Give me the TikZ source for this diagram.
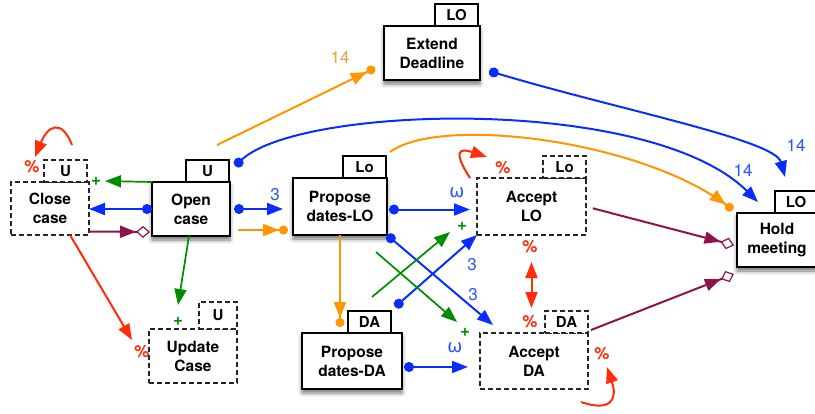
\documentclass[tikz,border=0pt]{standalone}
\usepackage{fontspec}
\setmainfont{TeX Gyre Heros}
\newfontfamily\greekfont{DejaVu Sans}
\usetikzlibrary{positioning}
\usetikzlibrary{arrows.meta}
\usetikzlibrary{calc}
\usetikzlibrary{shadows.blur}
\definecolor{cblue}{RGB}{10,45,255}
\definecolor{cbluel}{RGB}{45,85,255}
\definecolor{cgreen}{RGB}{0,140,0}
\definecolor{corange}{RGB}{255,150,0}
\definecolor{corangel}{RGB}{245,160,60}
\definecolor{cred}{RGB}{255,45,10}
\definecolor{cpurple}{RGB}{140,20,75}
\tikzset{
    actnode/.style = {rectangle, draw=black, line width=1.1pt, fill=white, outer sep=0pt, align=center,
        font=\fontsize{15.5}{19}\selectfont\bfseries,
        blur shadow={shadow xshift=0pt, shadow yshift=-4pt, shadow blur radius=4pt, shadow opacity=55}},
    optnode/.style = {rectangle, draw=black!85, line width=1.1pt, dash pattern=on 5pt off 3pt, fill=white,
        outer sep=0pt, align=center, font=\fontsize{15.5}{19}\selectfont\bfseries},
    rolebox/.style = {rectangle, draw=black, line width=1.1pt, fill=white, outer sep=0pt,
        minimum width=43pt, minimum height=22pt, inner sep=0pt, font=\fontsize{15}{15}\selectfont\bfseries},
    roleboxd/.style = {rolebox, draw=black!85, dash pattern=on 5pt off 3pt},
    edgeb/.style = {-{Triangle[length=16pt,width=12pt]}, line width=2pt, cblue},
    edgeg/.style = {-{Triangle[length=16pt,width=12pt]}, line width=1.7pt, cgreen},
    edger/.style = {-{Triangle[length=16pt,width=12pt]}, line width=2pt, cred},
    edgeo/.style = {-{Triangle[length=16pt,width=12pt]}, line width=2pt, corange},
    edgep/.style = {line width=2pt, cpurple}, % ends in a diamond
    dotb/.style = {{Circle[length=10pt]}-{Triangle[length=16pt,width=12pt]}},
    arrdot/.style = {-{Triangle[length=16pt,width=12pt] Circle[length=9pt]}},
    arrdia/.style = {-{Triangle[length=16pt,width=12pt] Diamond[open,length=14pt,width=12pt,line width=1.2pt]}},
    dbl/.style = {{Triangle[length=16pt,width=12pt]}-{Triangle[length=16pt,width=12pt]}},
    lblb/.style = {text=cbluel, inner sep=0pt, font=\fontsize{17}{17}\selectfont},
    lblo/.style = {text=corangel, inner sep=0pt, font=\fontsize{17}{17}\selectfont},
    lblw/.style = {text=cbluel, inner sep=0pt, font=\greekfont\fontsize{18}{18}\selectfont},
    lblr/.style = {text=cred, inner sep=0pt, font=\fontsize{17}{17}\selectfont\bfseries},
    lblg/.style = {text=cgreen, inner sep=0pt, font=\fontsize{17}{17}\selectfont\bfseries}
}
\begin{document}
\begin{tikzpicture}[x=1pt,y=-1pt]
\useasboundingbox (0,0) rectangle (815,413);
%
\node[optnode, minimum width=78pt, minimum height=53pt] at (50,208.5) (cc) {Close\\case};
\node[roleboxd, above left=0pt and 2pt of cc.north east] (cct) {U};
\node[actnode, minimum width=78pt, minimum height=54pt] at (191,209) (oc) {Open\\case};
\node[rolebox, above left=0pt and 1pt of oc.north east] (oct) {U};
\node[optnode, minimum width=88pt, minimum height=54pt] at (193,356) (uc) {Update\\Case};
\node[roleboxd, above left=0pt and 0pt of uc.north east, minimum width=38pt, minimum height=27pt] (uct) {U};
\node[actnode, minimum width=94pt, minimum height=57pt] at (340,206.5) (pl) {Propose\\dates-LO};
\node[rolebox, above left=0pt and 1pt of pl.north east] (plt) {Lo};
\node[actnode, minimum width=96pt, minimum height=54pt] at (432,53) (ed) {Extend\\Deadline};
\node[rolebox, above left=0pt and 2pt of ed.north east] (edt) {LO};
\node[optnode, minimum width=109pt, minimum height=57pt] at (531.5,206.5) (al) {Accept\\LO};
\node[roleboxd, above left=0pt and 0pt of al.north east] (alt) {Lo};
\node[actnode, minimum width=100pt, minimum height=56pt] at (352,361) (pd) {Propose\\dates-DA};
\node[rolebox, above left=0pt and 11pt of pd.north east] (pdt) {DA};
\node[optnode, minimum width=108pt, minimum height=56pt] at (534,361) (ad) {Accept\\DA};
\node[roleboxd, above left=0pt and 0pt of ad.north east] (adt) {DA};
\node[actnode, minimum width=80pt, minimum height=54pt] at (777,240) (hm) {Hold\\meeting};
\node[rolebox, above left=0pt and 0pt of hm.north east, minimum width=42pt] (hmt) {LO};
%
% labels
\node[lblr] at (32,167) (pcc) {\%};
\node[lblg] at (96,181) (gcc) {+};
\node[lblg] at (178,321) (guc) {+};
\node[lblr] at (142,352) (puc) {\%};
\node[lblb] at (275,195) (b3a) {3};
\node[lblo] at (340,57) (o14) {14};
\node[lblw] at (457,193) (wal) {ω};
\node[lblg] at (462,226) (gal) {+};
\node[lblb] at (472,265) (b3b) {3};
\node[lblb] at (473,295) (b3c) {3};
\node[lblg] at (465,332) (gad) {+};
\node[lblw] at (455,348) (wad) {ω};
\node[lblr] at (503,168) (pal) {\%};
\node[lblr] at (530,247) (pals) {\%};
\node[lblr] at (530,322) (padn) {\%};
\node[lblr] at (602,354) (pade) {\%};
\node[lblb] at (743,170) (b14a) {14};
\node[lblb] at (796,145) (b14b) {14};
%
% Close case / Open case / Update case
\draw[edgeg] (oc.north west) -- ($(cc.north east)+(16,-1)$);
\draw[edgeb, dotb] (oc.west) -- (oc.west -| cc.east);
\draw[edgep, arrdia, shorten >=2pt] ($(cc.east)+(0,23)$) -- ($(oc.west)+(0,23)$);
\draw[edgeg] ($(oc.south)+(-2,0)$) -- ($(uc.north)+(-15,-24)$);
\draw[edger] ($(cc.south)+(20,0)$) -- ($(uc.west)+(-17,-16)$);
\draw[edger] ($(cc.north)+(22,-37)$) .. controls +(-10,-26) and +(13,-32) .. ($(cc.north)+(-15,-25)$);
%
% Open case -> Propose dates-LO, Extend Deadline, Hold meeting
\draw[edgeb, dotb, shorten <=4pt, shorten >=10pt] (oc.east) -- (oc.east -| pl.west);
\draw[edgeo, arrdot, shorten <=8pt, shorten >=5pt] ($(oc.east)+(0,21)$) -- ($(oc.east -| pl.west)+(0,21)$);
\draw[edgeo, arrdot] ($(oc.north)+(26,-37)$) -- ($(ed.west)+(-9,15)$);
\draw[edgeb, dotb] ($(oct.north east)+(6,6)$) .. controls +(65,-61) and +(-108,-107) .. ($(hm.north west)+(21,-11)$);
\draw[edgeo, arrdot] ($(plt.north east)+(4,-4)$) .. controls +(50,-37) and +(-93,-70) .. ($(hm.north west)+(-4,-3)$);
\draw[edgeb, dotb] ($(ed.east)+(9,18)$) .. controls +(131,39) and +(-10,-37) .. ($(hmt.north west)+(10,-14)$);
%
% Propose dates -> Accept
\draw[edgeb, dotb, shorten <=2pt, shorten >=7pt] ($(pl.east)+(0,3)$) -- ($(pl.east -| al.west)+(0,3)$);
\draw[edgeb, dotb] (pl.south east) -- ($(ad.north west)+(13,-8)$);
\draw[edgeb, dotb] ($(pd.north east)+(-7,-26)$) -- (al.south west);
\draw[edgeg] ($(pl.south east)+(-11,17)$) -- ($(ad.north west)+(-23,-11)$);
\draw[edgeg] ($(pd.north east)+(-30,-36)$) -- ($(al.south west)+(-27,-3)$);
\draw[edgeo, arrdot, shorten >=6pt] (pl.south) -- (pl.south |- pd.north);
\draw[edgeb, dotb, shorten <=2pt, shorten >=12pt] ($(pd.east)+(0,6)$) -- ($(pd.east -| ad.west)+(0,6)$);
%
% Accept LO / Accept DA
\draw[edger, dbl, shorten <=27pt, shorten >=25pt] (al.south) -- (al.south |- ad.north);
\draw[edger] ($(al.north west)+(-7,0)$) .. controls +(-18,-28) and +(-27,-9) .. ($(al.north west)+(10,-21)$);
\draw[edger] ($(ad.south east)+(-7,13)$) .. controls +(29,10) and +(11,33) .. ($(ad.south east)+(19,-22)$);
\draw[edgep, arrdia, shorten <=7pt, shorten >=3pt] (al.east) -- ($(hm.west)+(0,6)$);
\draw[edgep, arrdia] ($(adt.south east)+(3,-3)$) -- ($(hm.west)+(-3,34)$);
\end{tikzpicture}
\end{document}
